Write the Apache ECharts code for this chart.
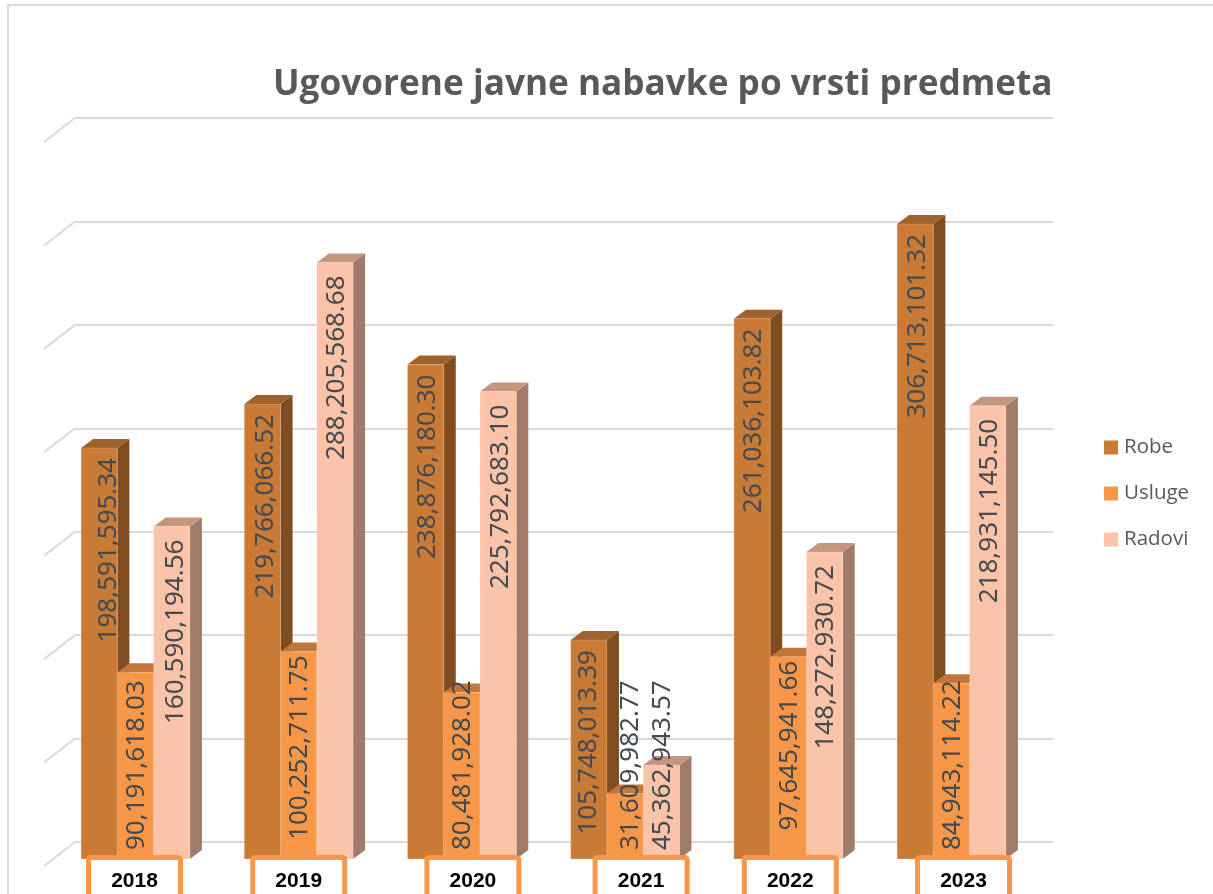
<!DOCTYPE html>
<html><head><meta charset="utf-8">
<style>html,body{margin:0;padding:0;background:#fff;overflow:hidden}#c{width:1213px;height:894px}</style>
<script src="https://cdn.jsdelivr.net/npm/echarts@6/dist/echarts.min.js"></script>
</head><body><div id="c"></div>
<script>
const categories = ['2018','2019','2020','2021','2022','2023'];
const robe = [198591595.34,219766066.52,238876180.30,105748013.39,261036103.82,306713101.32];
const usluge = [90191618.03,100252711.75,80481928.02,31609982.77,97645941.66,84943114.22];
const radovi = [160590194.56,288205568.68,225792683.10,45362943.57,148272930.72,218931145.50];
const gridValues = [0,50e6,100e6,150e6,200e6,250e6,300e6,350e6];
const titleText = 'Ugovorene javne nabavke po vrsti predmeta';
const palette = [
  {name:'Robe',front:'#C97B36',side:'#7F4D20',top:'#A0622B'},
  {name:'Usluge',front:'#F79747',side:'#B56F33',top:'#C2773A'},
  {name:'Radovi',front:'#FBC3A8',side:'#A07B69',top:'#C49680'}
];
const allSeries = [robe,usluge,radovi];
// small nudges of the value labels and category boxes, as placed in the source chart
const labelNudge = [[9,3,2,0,2,2],[1,1,1,5,1,1],[4,2,2,1,1,2]];
const labelTopPad = [10,4,13];
const boxNudge = [-1,0,11,16,2,12];
const DX=12, DY=9;

function fmt(v){return v.toLocaleString('en-US',{minimumFractionDigits:2,maximumFractionDigits:2});}

function barRender(si){
  return function(params,api){
    const cat=api.value(0), v=api.value(1);
    const p=api.coord([cat,v]), base=api.coord([cat,0]);
    const band=api.size([1,0])[0];
    const w=band/4.5;
    const x=p[0]-1.5*w+si*w, yT=p[1], yB=base[1];
    const c=palette[si];
    const edge='rgba(255,255,255,0.35)';
    return {type:'group',children:[
      {type:'polygon',shape:{points:[[x+w,yT],[x+w+DX,yT-DY],[x+w+DX,yB-DY],[x+w,yB]]},style:{fill:c.side}},
      {type:'polygon',shape:{points:[[x,yT],[x+DX,yT-DY],[x+w+DX,yT-DY],[x+w,yT]]},style:{fill:c.top}},
      {type:'rect',shape:{x:x,y:yT,width:w,height:yB-yT},style:{fill:c.front,stroke:edge,lineWidth:0.5}}
    ]};
  };
}
function labelRender(params,api){
  const cat=api.value(0), v=api.value(1), si=api.value(2);
  const p=api.coord([cat,v]), base=api.coord([cat,0]);
  const w=api.size([1,0])[0]/4.5;
  const cx=p[0]-w+si*w+labelNudge[si][cat];
  const h=base[1]-p[1];
  const low=h<196;
  return {type:'text',x:cx,y:low?base[1]-9:p[1]+labelTopPad[si],rotation:Math.PI/2,
    style:{text:fmt(v),x:0,y:0,align:low?'left':'right',verticalAlign:'middle',
      font:'26px "Noto Sans"',fill:'#434a50'}};
}
function boxRender(params,api){
  const cat=api.value(0);
  const c=api.coord([cat,0]);
  const cx=c[0]+boxNudge[cat];
  return {type:'group',children:[
    {type:'rect',shape:{x:cx-46,y:857.5,width:92,height:60,r:2},style:{fill:'#fff',stroke:'#F79747',lineWidth:5}},
    {type:'text',style:{text:categories[cat],x:cx,y:881,align:'center',verticalAlign:'middle',font:'bold 21px "Liberation Sans"',fill:'#000'}}
  ]};
}
function wallRender(params,api){
  const p=api.coord([0,api.value(0)]);
  return {type:'line',shape:{x1:p[0]-31,y1:p[1]+24,x2:p[0],y2:p[1]},style:{stroke:'#d9d9d9',lineWidth:2}};
}

const chart=echarts.init(document.getElementById('c'),null,{renderer:'canvas'});
chart.setOption({
  animation:false,
  backgroundColor:'#fff',
  title:{text:titleText,left:268,top:62,textStyle:{fontFamily:'Open Sans',fontWeight:'bold',fontSize:35.2,color:'#595959'}},
  legend:{orient:'vertical',left:1099,top:432,itemWidth:14,itemHeight:14,itemGap:25,icon:'rect',
    data:palette.map(p=>p.name),
    textStyle:{fontFamily:'Open Sans',fontSize:20.5,color:'#595959',padding:[0,0,0,1]}},
  graphic:[{type:'rect',silent:true,z:-1,shape:{x:8,y:5,width:1300,height:1000},style:{fill:'none',stroke:'#d9d9d9',lineWidth:2}}],
  grid:[
    {left:75,right:160,top:118,height:724},
    {left:53.9,width:979.2,top:134.5,height:724.5}
  ],
  xAxis:[
    {gridIndex:0,type:'value',min:0,max:1,show:false},
    {gridIndex:1,type:'category',data:categories,axisLine:{show:false},axisTick:{show:false},axisLabel:{show:false}}
  ],
  yAxis:[
    {gridIndex:0,type:'value',min:0,max:350e6,interval:50e6,axisLine:{show:false},axisTick:{show:false},axisLabel:{show:false},
      splitLine:{show:true,lineStyle:{color:'#d9d9d9',width:2}}},
    {gridIndex:1,type:'value',min:0,max:350e6,interval:50e6,show:false,splitLine:{show:false}}
  ],
  series:[
    {type:'custom',name:'wall',xAxisIndex:0,yAxisIndex:0,z:1,data:gridValues.map(v=>[v]),renderItem:wallRender,silent:true,clip:false},
    ...palette.map((c,si)=>({type:'custom',name:c.name,xAxisIndex:1,yAxisIndex:1,z:2+si,clip:false,
      itemStyle:{color:c.front},
      encode:{x:0,y:1},
      data:allSeries[si].map((v,i)=>[i,v]),renderItem:barRender(si)})),
    {type:'custom',name:'labels',xAxisIndex:1,yAxisIndex:1,z:6,clip:false,silent:true,encode:{x:0,y:1},
      data:allSeries.flatMap((arr,si)=>arr.map((v,i)=>[i,v,si])),renderItem:labelRender},
    {type:'custom',name:'categories',xAxisIndex:1,yAxisIndex:1,z:7,clip:false,silent:true,encode:{x:0},
      data:categories.map((c,i)=>[i]),renderItem:boxRender}
  ]
});
</script></body></html>
